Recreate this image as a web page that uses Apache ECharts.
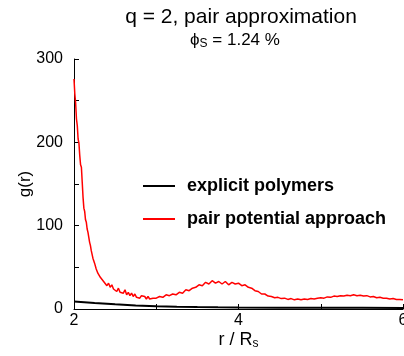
<!DOCTYPE html>
<html><head><meta charset="utf-8">
<script src="https://cdn.jsdelivr.net/npm/echarts@6/dist/echarts.min.js"></script>
<style>html,body{margin:0;padding:0;background:#fff}#c{width:404px;height:356px}</style>
</head><body><div id="c"></div>
<script>
const rRed = [2.00,2.01,2.02,2.03,2.04,2.05,2.06,2.07,2.08,2.09,2.10,2.11,2.12,2.13,2.14,2.15,2.16,2.17,2.18,2.19,2.20,2.21,2.22,2.23,2.24,2.25,2.26,2.27,2.28,2.29,
2.30,2.32,2.34,2.36,2.38,2.40,2.42,2.44,2.46,2.48,2.50,2.52,2.54,2.56,2.58,2.60,2.62,2.64,2.66,2.68,2.70,2.72,2.74,2.76,2.78,2.80,2.82,2.84,2.86,2.88,2.90,2.92,2.94,2.96,2.98,
3.00,3.04,3.08,3.12,3.16,3.20,3.24,3.28,3.32,3.36,3.40,3.44,3.48,3.52,3.56,3.60,3.64,3.68,3.72,3.76,3.80,3.84,3.88,3.92,3.96,
4.00,4.04,4.08,4.12,4.16,4.20,4.24,4.28,4.32,4.36,4.40,4.44,4.48,4.52,4.56,4.60,4.64,4.68,4.72,4.76,4.80,4.84,4.88,4.92,4.96,
5.00,5.04,5.08,5.12,5.16,5.20,5.24,5.28,5.32,5.36,5.40,5.44,5.48,5.52,5.56,5.60,5.64,5.68,5.72,5.76,5.80,5.84,5.88,5.92,5.96,6.00];
const gRed = [276,258,247,228,220,204,199,184,173,170,152,134,121,117,107,104,96,92,86,80,76,70,68,61,58,55,53,48,47,43,
44,38,39,33,35,28,31,26,29,24,26,21,25,20,22,19,23,17,20,16,19,15,18,14,16,13,16,14,15,12,15,12,14,13,15,
13,15,14,17,16,18,17,20,19,23,22,25,26,29,28,32,30,34,31,33,30,33,29,32,30,
31,28,29,26,25,22,21,18,18,15.5,15,13.5,14,12.5,13,11.5,12.5,11,12,11,12,11.5,12.5,12,13,
13.5,13,14.5,14,15.5,15,16,15.5,16.5,16,17,16,16.5,15.5,16,14.5,15,13.5,14,13,13,12,12.5,11.5,11.5,11];
const rBlack = [2.0,2.25,2.5,2.75,3.0,3.25,3.5,3.75,4.0,4.5,5.0,5.5,6.0];
const gBlack = [9,7.2,5.7,4.3,3.2,2.7,2.3,2,1.8,1.6,1.5,1.4,1.3];
const xTicks = [2,4,6];
const yTicks = [0,100,200,300];
const seriesNames = ['explicit polymers','pair potential approach'];

const chart = echarts.init(document.getElementById('c'));
const font = 'Liberation Sans, Arial, sans-serif';
chart.setOption({
  animation:false,
  title:[
    {text:'q = 2, pair approximation', left:236, top:2, textAlign:'center',
     textStyle:{fontFamily:font,fontSize:21,fontWeight:'normal',color:'#000'}},
    {text:'{a|ϕ}{s|S}{a| = 1.24 %}', left:230, top:26, textAlign:'center',
     textStyle:{fontWeight:'normal',rich:{a:{fontFamily:font,fontSize:17,fontWeight:'normal',color:'#000'},s:{fontFamily:font,fontSize:12,fontWeight:'normal',color:'#000',padding:[7,0,0,0]}}}}
  ],
  grid:{left:74,right:1,top:59,bottom:47,containLabel:false,outerBoundsMode:'none'},
  legend:{
    left:143, top:176, padding:0, orient:'vertical', itemWidth:32, itemHeight:2, itemGap:13, icon:'rect',
    data:seriesNames,
    textStyle:{fontFamily:font,fontSize:18,fontWeight:'bold',color:'#000',padding:[0,0,0,7],lineHeight:20}
  },
  xAxis:{type:'value',min:2,max:6,interval:2,
    axisLine:{lineStyle:{color:'#000',width:1}},
    axisTick:{inside:true,length:5,lineStyle:{color:'#000'}},
    minorTick:{show:true,splitNumber:2,length:5,lineStyle:{color:'#000'}},
    splitLine:{show:false},
    axisLabel:{fontFamily:font,fontSize:16,color:'#000',margin:4,alignMaxLabel:'center',alignMinLabel:'center',hideOverlap:false,
      formatter:v=>xTicks.includes(v)?String(v):''},
    name:'{a|r / R}{s|s}', nameLocation:'middle', nameGap:22, nameMoveOverlap:false,
    nameTextStyle:{rich:{a:{fontFamily:font,fontSize:18,color:'#000'},s:{fontFamily:font,fontSize:12,color:'#000',padding:[7,0,0,0]}}}
  },
  yAxis:{type:'value',min:0,max:300,interval:100,
    axisLine:{show:true,lineStyle:{color:'#000',width:1}},
    axisTick:{show:true,inside:true,length:5,lineStyle:{color:'#000'}},
    minorTick:{show:true,splitNumber:2,length:5,lineStyle:{color:'#000'}},
    splitLine:{show:false},
    axisLabel:{fontFamily:font,fontSize:16,color:'#000',margin:11,
      formatter:v=>yTicks.includes(v)?String(v):''},
    name:'g(r)', nameLocation:'middle', nameGap:40, nameMoveOverlap:false,
    nameTextStyle:{fontFamily:font,fontSize:17,color:'#000'}
  },
  series:[
    {name:seriesNames[0],type:'line',showSymbol:false,data:rBlack.map((r,i)=>[r,gBlack[i]]),
     lineStyle:{color:'#000',width:2},itemStyle:{color:'#000'},z:3},
    {name:seriesNames[1],type:'line',showSymbol:false,data:rRed.map((r,i)=>[r,gRed[i]]),
     lineStyle:{color:'#ff0000',width:1.5},itemStyle:{color:'#ff0000'},z:2}
  ]
});
</script></body></html>
